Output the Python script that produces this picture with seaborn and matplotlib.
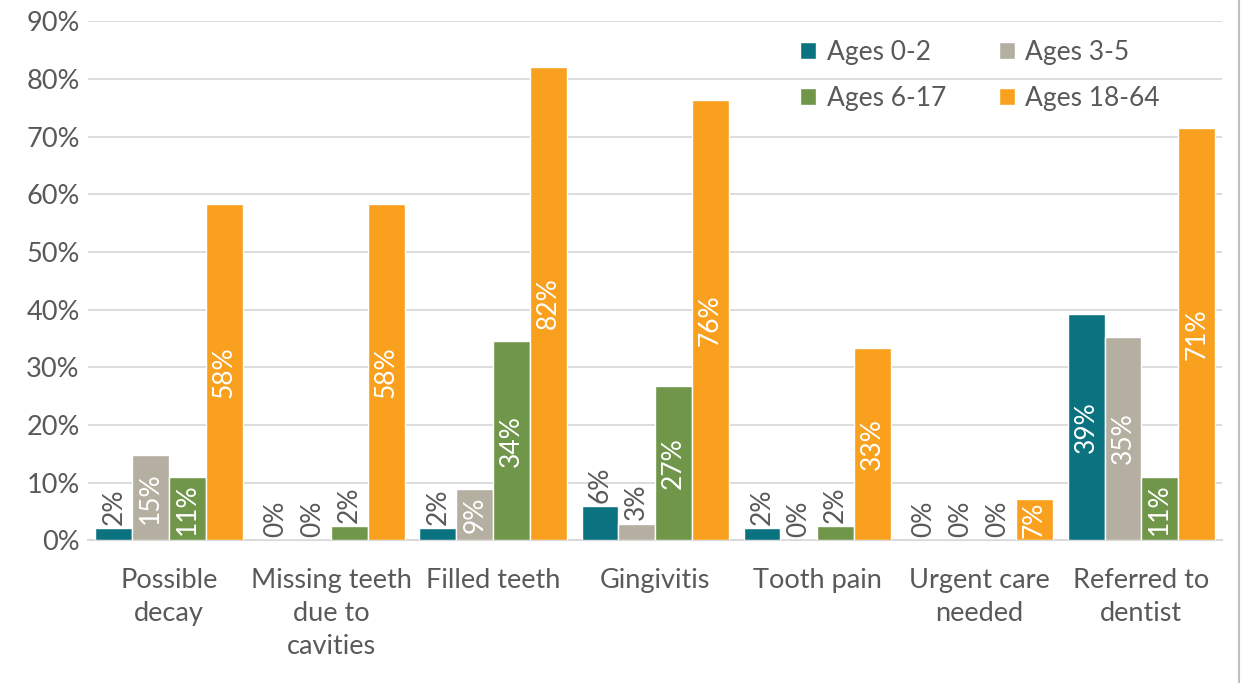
import pandas as pd
import matplotlib.pyplot as plt
import seaborn as sns
from matplotlib.lines import Line2D

sns.set_style('white')
plt.rcParams['font.family'] = ['Lato', 'DejaVu Sans']

categories = ['Possible\ndecay', 'Missing teeth\ndue to\ncavities', 'Filled teeth',
              'Gingivitis', 'Tooth pain', 'Urgent care\nneeded', 'Referred to\ndentist']
groups = ['Ages 0-2', 'Ages 3-5', 'Ages 6-17', 'Ages 18-64']
ages_0_2 = [2.1, 0.0, 2.1, 5.9, 2.1, 0.0, 39.2]
ages_3_5 = [14.7, 0.0, 8.8, 2.9, 0.0, 0.0, 35.3]
ages_6_17 = [10.9, 2.4, 34.5, 26.7, 2.4, 0.0, 10.9]
ages_18_64 = [58.3, 58.3, 82.1, 76.3, 33.3, 7.1, 71.4]
colors = ['#0b7380', '#b5afa2', '#70964a', '#f9a11e']

rows = []
for g, vals in zip(groups, [ages_0_2, ages_3_5, ages_6_17, ages_18_64]):
    for c, v in zip(categories, vals):
        rows.append({'Category': c, 'Group': g, 'Value': v})
df = pd.DataFrame(rows)

fig = plt.figure(figsize=(12.41, 6.83), dpi=100)
ax = fig.add_axes([0.071, 0.209, 0.914, 0.760])

sns.barplot(data=df, x='Category', y='Value', hue='Group', palette=colors,
            width=0.91, gap=0, saturation=1, ax=ax, zorder=3)

txt = '#595959'
ax.set_ylim(0, 90)
ax.set_yticks(range(0, 91, 10))
ax.set_yticklabels([f'{t}%' for t in range(0, 91, 10)])
ax.yaxis.grid(True, color='#d9d9d9', linewidth=1.3, zorder=0)
ax.set_axisbelow(True)
for s in ['left', 'right', 'top']:
    ax.spines[s].set_visible(False)
ax.spines['bottom'].set_color('#d9d9d9')
ax.spines['bottom'].set_linewidth(1.5)
ax.tick_params(axis='both', length=0, labelsize=19.5, colors=txt, pad=6)
ax.tick_params(axis='x', pad=20)
for lab in ax.get_xticklabels():
    lab.set_linespacing(1.4)
ax.set_xlabel('')
ax.set_ylabel('')
ax.set_xlim(-0.5, len(categories) - 0.5)

# data labels: inside (white) when bar is tall enough, above otherwise
for cont in ax.containers:
    for bar in cont:
        h = bar.get_height()
        x = bar.get_x() + bar.get_width() / 2
        lbl = f'{h:.0f}%'
        if h >= 7:
            ax.text(x, h / 2, lbl, rotation=90, ha='center', va='center',
                    color='white', fontsize=19, zorder=4, clip_on=True)
        else:
            ax.text(x, h + 0.6, lbl, rotation=90, ha='center', va='bottom',
                    color=txt, fontsize=19, zorder=4)

# row-wise legend order
handles, labels = ax.get_legend_handles_labels()
order = [0, 2, 1, 3]
ax.legend([handles[i] for i in order], [labels[i] for i in order],
          ncol=2, loc='upper left', bbox_to_anchor=(0.607, 1.01), frameon=False,
          fontsize=19, labelcolor=txt, handlelength=0.6, handleheight=0.6,
          handletextpad=0.4, columnspacing=2.0, labelspacing=0.8)

fig.add_artist(Line2D([0.9985, 0.9985], [0, 1], color='#bfbfbf', linewidth=1.5))

fig.savefig('out.png', dpi=100)
